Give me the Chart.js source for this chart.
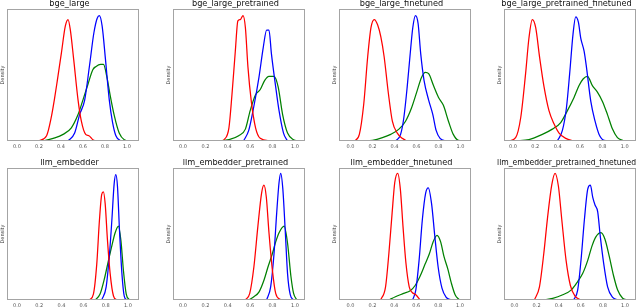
<!DOCTYPE html>
<html>
<head>
<meta charset="utf-8">
<script src="https://cdn.jsdelivr.net/npm/chart.js@4.4.0/dist/chart.umd.min.js"></script>
<style>
    body { margin: 0; background: #fff; width: 640px; height: 308px; overflow: hidden; position: relative; }
    canvas { position: absolute; }
</style>
</head>
<body>
<script>
var titles = ['bge_large', 'bge_large_pretrained', 'bge_large_finetuned', 'bge_large_pretrained_finetuned',
    'llm_embedder', 'llm_embedder_pretrained', 'llm_embedder_finetuned', 'llm_embedder_pretrained_finetuned'];
var xTicks = [0, 0.2, 0.4, 0.6, 0.8, 1.0];
var xMin = [-0.09, -0.09, -0.105, -0.08, -0.09, -0.09, -0.105, -0.095];
var xMax = [1.11, 1.09, 1.095, 1.10, 1.10, 1.09, 1.10, 1.10];

var redX = [
    [0.195, 0.27, 0.315, 0.34, 0.366, 0.405, 0.44, 0.465, 0.486, 0.516, 0.556, 0.586, 0.625, 0.655, 0.69, 0.75],
    [0.36, 0.41, 0.437, 0.467, 0.49, 0.512, 0.536, 0.557, 0.58, 0.61, 0.648, 0.69, 0.78],
    [0.036, 0.08, 0.12, 0.156, 0.186, 0.216, 0.246, 0.275, 0.305, 0.344, 0.38, 0.425, 0.47, 0.515],
    [-0.036, 0.024, 0.07, 0.113, 0.143, 0.173, 0.203, 0.239, 0.278, 0.322, 0.367, 0.412, 0.472, 0.546],
    [0.653, 0.689, 0.719, 0.743, 0.764, 0.779, 0.795, 0.816, 0.84, 0.87, 0.9],
    [0.557, 0.596, 0.633, 0.669, 0.702, 0.723, 0.744, 0.768, 0.798, 0.828, 0.873],
    [0.275, 0.32, 0.35, 0.38, 0.404, 0.431, 0.455, 0.479, 0.506, 0.536, 0.566, 0.596, 0.635],
    [0.18, 0.226, 0.265, 0.3, 0.337, 0.367, 0.398, 0.428, 0.467, 0.506, 0.548, 0.6]
];
var redY = [
    [0, 0.04, 0.19, 0.31, 0.45, 0.67, 0.87, 0.92, 0.84, 0.62, 0.31, 0.15, 0.05, 0.04, 0.01, 0],
    [0, 0.1, 0.35, 0.68, 0.91, 0.92, 0.95, 0.86, 0.56, 0.30, 0.1, 0.02, 0],
    [0, 0.05, 0.28, 0.64, 0.86, 0.92, 0.88, 0.79, 0.64, 0.36, 0.15, 0.06, 0.02, 0],
    [0, 0.025, 0.18, 0.51, 0.78, 0.92, 0.86, 0.63, 0.41, 0.23, 0.13, 0.06, 0.02, 0],
    [0, 0.045, 0.27, 0.6, 0.8, 0.82, 0.73, 0.45, 0.2, 0.03, 0],
    [0, 0.05, 0.25, 0.56, 0.81, 0.87, 0.78, 0.51, 0.23, 0.05, 0],
    [0, 0.1, 0.35, 0.66, 0.89, 0.96, 0.84, 0.56, 0.28, 0.1, 0.055, 0.04, 0],
    [0, 0.1, 0.35, 0.63, 0.87, 0.96, 0.86, 0.61, 0.3, 0.11, 0.03, 0]
];

var blueX = [
    [0.465, 0.525, 0.57, 0.616, 0.66, 0.70, 0.73, 0.75, 0.775, 0.805, 0.84, 0.87, 0.90, 0.945],
    [0.54, 0.587, 0.63, 0.678, 0.717, 0.747, 0.768, 0.79, 0.828, 0.858, 0.898, 0.934],
    [0.41, 0.455, 0.485, 0.515, 0.54, 0.566, 0.59, 0.614, 0.638, 0.668, 0.71, 0.748, 0.778, 0.814, 0.874],
    [0.397, 0.442, 0.478, 0.507, 0.537, 0.561, 0.585, 0.606, 0.636, 0.657, 0.696, 0.734, 0.77, 0.815, 0.86],
    [0.764, 0.804, 0.834, 0.855, 0.876, 0.891, 0.906, 0.924, 0.946, 0.967, 0.99],
    [0.747, 0.783, 0.813, 0.837, 0.858, 0.873, 0.892, 0.913, 0.934, 0.958, 0.988],
    [0.566, 0.596, 0.626, 0.656, 0.686, 0.71, 0.74, 0.77, 0.8, 0.835, 0.874, 0.92],
    [0.536, 0.572, 0.602, 0.633, 0.663, 0.687, 0.708, 0.729, 0.753, 0.777, 0.807, 0.843, 0.889, 0.934]
];
var blueY = [
    [0, 0.06, 0.2, 0.31, 0.57, 0.82, 0.93, 0.95, 0.87, 0.62, 0.31, 0.14, 0.04, 0],
    [0, 0.08, 0.25, 0.48, 0.71, 0.84, 0.84, 0.66, 0.41, 0.23, 0.06, 0],
    [0, 0.05, 0.18, 0.41, 0.64, 0.86, 0.95, 0.89, 0.66, 0.46, 0.31, 0.2, 0.08, 0.02, 0],
    [0, 0.08, 0.25, 0.51, 0.81, 0.94, 0.9, 0.78, 0.68, 0.56, 0.30, 0.15, 0.05, 0.005, 0],
    [0, 0.1, 0.35, 0.6, 0.88, 0.95, 0.86, 0.53, 0.2, 0.03, 0],
    [0, 0.1, 0.35, 0.66, 0.89, 0.96, 0.84, 0.53, 0.2, 0.04, 0],
    [0, 0.075, 0.3, 0.61, 0.81, 0.85, 0.73, 0.48, 0.25, 0.09, 0.02, 0],
    [0, 0.075, 0.3, 0.61, 0.84, 0.87, 0.78, 0.72, 0.67, 0.48, 0.28, 0.1, 0.02, 0]
];

var greenX = [
    [0.24, 0.33, 0.42, 0.495, 0.556, 0.60, 0.646, 0.69, 0.72, 0.76, 0.787, 0.817, 0.847, 0.886, 0.93, 0.976, 1.036],
    [0.316, 0.41, 0.497, 0.557, 0.60, 0.648, 0.69, 0.73, 0.768, 0.813, 0.85, 0.89, 0.934, 0.988, 1.024],
    [0.11, 0.2, 0.29, 0.365, 0.44, 0.5, 0.554, 0.605, 0.644, 0.68, 0.71, 0.754, 0.8, 0.844, 0.89, 0.934, 0.98, 1.024],
    [0.024, 0.143, 0.263, 0.352, 0.427, 0.487, 0.546, 0.591, 0.627, 0.666, 0.71, 0.755, 0.8, 0.845, 0.89, 0.934, 0.994],
    [0.704, 0.749, 0.785, 0.825, 0.855, 0.885, 0.915, 0.937, 0.96, 0.985, 1.015],
    [0.587, 0.633, 0.678, 0.723, 0.759, 0.798, 0.828, 0.858, 0.904, 0.934, 0.964, 0.988, 1.018],
    [0.35, 0.41, 0.485, 0.545, 0.59, 0.635, 0.68, 0.72, 0.754, 0.79, 0.823, 0.853, 0.89, 0.92, 0.955, 0.994],
    [0.256, 0.346, 0.437, 0.512, 0.572, 0.617, 0.663, 0.702, 0.738, 0.783, 0.819, 0.858, 0.898, 0.934, 0.979, 1.024]
];
var greenY = [
    [0, 0.02, 0.05, 0.1, 0.2, 0.31, 0.43, 0.54, 0.565, 0.58, 0.58, 0.49, 0.35, 0.19, 0.06, 0.01, 0],
    [0, 0.01, 0.04, 0.09, 0.23, 0.35, 0.39, 0.46, 0.49, 0.49, 0.41, 0.2, 0.06, 0.01, 0],
    [0, 0.005, 0.025, 0.05, 0.09, 0.15, 0.25, 0.38, 0.48, 0.52, 0.51, 0.42, 0.33, 0.27, 0.15, 0.05, 0.005, 0],
    [0, 0.01, 0.05, 0.09, 0.14, 0.23, 0.33, 0.42, 0.47, 0.49, 0.42, 0.37, 0.3, 0.2, 0.09, 0.025, 0],
    [0, 0.045, 0.15, 0.3, 0.41, 0.51, 0.56, 0.45, 0.22, 0.045, 0],
    [0, 0.025, 0.06, 0.15, 0.25, 0.35, 0.44, 0.51, 0.56, 0.43, 0.18, 0.05, 0],
    [0, 0.025, 0.05, 0.07, 0.11, 0.18, 0.27, 0.35, 0.44, 0.49, 0.44, 0.33, 0.23, 0.13, 0.04, 0],
    [0, 0.013, 0.04, 0.075, 0.14, 0.2, 0.3, 0.41, 0.48, 0.51, 0.46, 0.33, 0.18, 0.075, 0.013, 0]
];

// panel boxes (plot area) in page pixels
var boxLeft = [7, 173, 339, 504];
var boxTop = [9, 168];
var boxW = 132, boxH = 132;
var axisW = 7, titleH = 9, tickH = 12;

var frame = {
    id: 'frame',
    afterDraw: function (chart) {
        var a = chart.chartArea, ctx = chart.ctx;
        ctx.save();
        ctx.strokeStyle = '#a4a4a4';
        ctx.lineWidth = 1;
        ctx.strokeRect(a.left + 0.5, a.top + 0.5, a.right - a.left - 1, a.bottom - a.top - 1);
        ctx.restore();
    }
};

function toPoints(xs, ys) {
    return xs.map(function (x, k) { return {x: x, y: ys[k]}; });
}

function line(xs, ys, color) {
    return {
        data: toPoints(xs, ys),
        borderColor: color,
        borderWidth: 1.25,
        pointRadius: 0,
        fill: false,
        cubicInterpolationMode: 'monotone'
    };
}

titles.forEach(function (title, i) {
    var col = i % 4, row = Math.floor(i / 4);
    var canvas = document.createElement('canvas');
    canvas.width = boxW + 2 * axisW;
    canvas.height = titleH + boxH + tickH;
    canvas.style.left = (boxLeft[col] - axisW) + 'px';
    canvas.style.top = (boxTop[row] - titleH) + 'px';
    document.body.appendChild(canvas);

    new Chart(canvas, {
        type: 'line',
        data: {
            datasets: [
                line(redX[i], redY[i], '#ff0000'),
                line(blueX[i], blueY[i], '#0000ff'),
                line(greenX[i], greenY[i], '#008000')
            ]
        },
        options: {
            responsive: false,
            animation: false,
            layout: {padding: {left: 0, right: axisW, top: 0, bottom: 0}},
            plugins: {
                legend: {display: false},
                tooltip: {enabled: false},
                title: {
                    display: true,
                    text: title,
                    color: '#111',
                    padding: {top: 0, bottom: 1},
                    font: {family: 'DejaVu Sans', size: 8.2, weight: 'normal', lineHeight: 8 / 8.2}
                }
            },
            scales: {
                x: {
                    type: 'linear',
                    min: xMin[i],
                    max: xMax[i],
                    grid: {display: false, drawTicks: false},
                    border: {display: false},
                    afterBuildTicks: function (axis) {
                        axis.ticks = xTicks.map(function (v) { return {value: v}; });
                    },
                    afterFit: function (axis) { axis.height = tickH; },
                    ticks: {
                        autoSkip: false,
                        maxRotation: 0,
                        padding: 3,
                        color: '#555',
                        font: {family: 'DejaVu Sans', size: 5},
                        callback: function (v) { return v.toFixed(1); }
                    }
                },
                y: {
                    min: 0,
                    max: 1,
                    grid: {display: false, drawTicks: false},
                    border: {display: false},
                    ticks: {display: false},
                    afterFit: function (axis) { axis.width = axisW; },
                    title: {
                        display: true,
                        text: 'Density',
                        color: '#333',
                        padding: 0,
                        font: {family: 'DejaVu Sans', size: 5}
                    }
                }
            }
        },
        plugins: [frame]
    });
});
</script>
</body>
</html>
